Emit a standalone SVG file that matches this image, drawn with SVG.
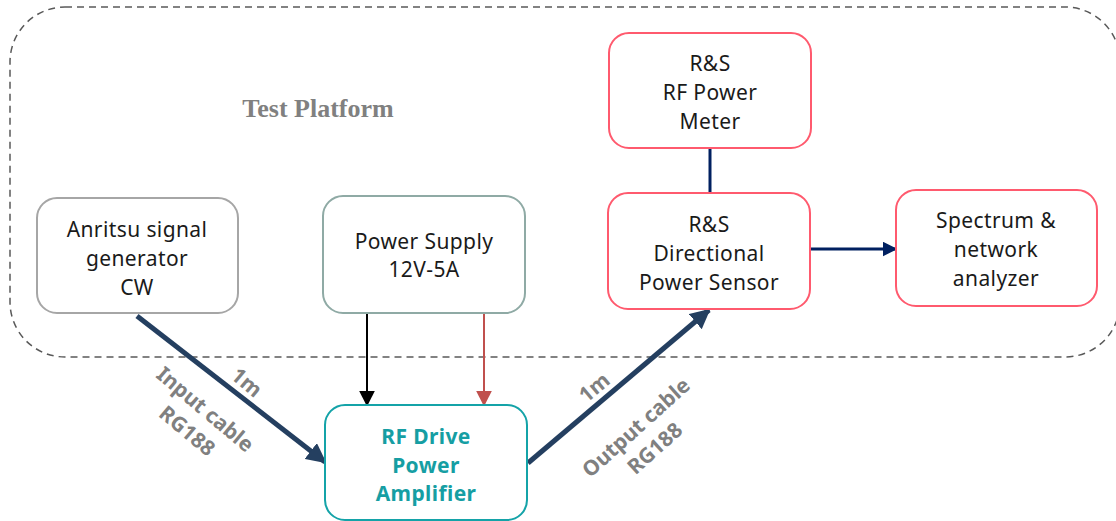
<svg xmlns="http://www.w3.org/2000/svg" width="1116" height="521" viewBox="0 0 1116 521">
<style>
.t{font-family:"Noto Sans","Liberation Sans",sans-serif;font-size:21px;letter-spacing:0.4px;fill:#1a1a1a;text-anchor:middle}
.b{font-family:"Noto Sans","Liberation Sans",sans-serif;font-size:21px;letter-spacing:0.4px;font-weight:bold;fill:#169ea3;text-anchor:middle}
.lbl{font-family:"Noto Sans","Liberation Sans",sans-serif;font-size:21px;font-weight:bold;fill:#808080;text-anchor:middle}
.box{fill:#fff;stroke-width:2}
</style>
<defs>
<marker id="an" viewBox="0 0 10 10" refX="9" refY="5" markerWidth="4" markerHeight="4" markerUnits="strokeWidth" orient="auto"><path d="M0,0L10,5L0,10z" fill="#243f60"/></marker>
<marker id="ab" viewBox="0 0 10 10" refX="9" refY="5" markerWidth="8" markerHeight="8" markerUnits="strokeWidth" orient="auto"><path d="M0,0L10,5L0,10z" fill="#000"/></marker>
<marker id="ar" viewBox="0 0 10 10" refX="9" refY="5" markerWidth="8" markerHeight="8" markerUnits="strokeWidth" orient="auto"><path d="M0,0L10,5L0,10z" fill="#c0504d"/></marker>
<marker id="ad" viewBox="0 0 10 10" refX="9" refY="5" markerWidth="5" markerHeight="5" markerUnits="strokeWidth" orient="auto"><path d="M0,0L10,5L0,10z" fill="#002060"/></marker>
</defs>
<g id="platform">
<rect x="10" y="7" width="1110" height="350" rx="55" fill="none" stroke="#595959" stroke-width="1.5" stroke-dasharray="7,5"/>
<text x="318" y="117" style="font-family:'Liberation Serif',serif;font-size:26px;font-weight:bold;fill:#808080;text-anchor:middle">Test Platform</text>
</g>
<g id="connectors">
<line x1="137" y1="316" x2="325" y2="462" stroke="#243f60" stroke-width="5" marker-end="url(#an)"/>
<line x1="528" y1="463" x2="709" y2="310" stroke="#243f60" stroke-width="5" marker-end="url(#an)"/>
<line x1="367" y1="313" x2="367" y2="405" stroke="#000" stroke-width="2" marker-end="url(#ab)"/>
<line x1="484" y1="313" x2="484" y2="405" stroke="#c0504d" stroke-width="2" marker-end="url(#ar)"/>
<line x1="710" y1="148" x2="710" y2="193" stroke="#002060" stroke-width="3"/>
<line x1="810" y1="249" x2="896" y2="249" stroke="#002060" stroke-width="3" marker-end="url(#ad)"/>
<text class="lbl" transform="translate(242,388) rotate(40)">1m</text>
<text class="lbl" transform="translate(200.5,415) rotate(40)"><tspan x="0" y="0">Input cable</tspan><tspan x="0" y="28">RG188</tspan></text>
<text class="lbl" transform="translate(599,393) rotate(-40)">1m</text>
<text class="lbl" transform="translate(641,433) rotate(-42)"><tspan x="0" y="0">Output cable</tspan><tspan x="0" y="28">RG188</tspan></text>
</g>
<g id="anritsu">
<rect class="box" x="37" y="198" width="201" height="115" rx="20" stroke="#a6a6a6"/>
<text class="t" x="137" y="237">Anritsu signal</text>
<text class="t" x="137" y="266">generator</text>
<text class="t" x="137" y="295">CW</text>
</g>
<g id="power-supply">
<rect class="box" x="323" y="196" width="202" height="117" rx="20" stroke="#8faaa5"/>
<text class="t" x="424" y="249">Power Supply</text>
<text class="t" x="424" y="277">12V-5A</text>
</g>
<g id="rf-drive">
<rect class="box" x="325" y="405" width="202" height="115" rx="20" stroke="#14a3a8"/>
<text class="b" x="426" y="444">RF Drive</text>
<text class="b" x="426" y="473">Power</text>
<text class="b" x="426" y="501">Amplifier</text>
</g>
<g id="power-meter">
<rect class="box" x="609" y="33" width="202" height="115" rx="20" stroke="#ff5a6e"/>
<text class="t" x="710" y="71">R&amp;S</text>
<text class="t" x="710" y="100">RF Power</text>
<text class="t" x="710" y="129">Meter</text>
</g>
<g id="power-sensor">
<rect class="box" x="608" y="193" width="202" height="116" rx="20" stroke="#ff5a6e"/>
<text class="t" x="709" y="232">R&amp;S</text>
<text class="t" x="709" y="261">Directional</text>
<text class="t" x="709" y="290">Power Sensor</text>
</g>
<g id="spectrum">
<rect class="box" x="896" y="190" width="201" height="116" rx="20" stroke="#ff5a6e"/>
<text class="t" x="996" y="228">Spectrum &amp;</text>
<text class="t" x="996" y="257">network</text>
<text class="t" x="996" y="286">analyzer</text>
</g>
</svg>
